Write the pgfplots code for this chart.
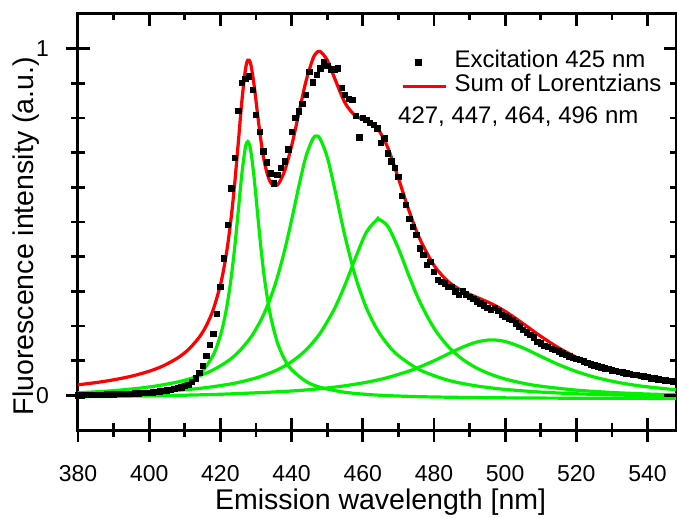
\documentclass[border=0pt]{standalone}
\usepackage{fontspec}
\setmainfont{Liberation Sans}
\usepackage{pgfplots}
\pgfplotsset{compat=1.18}
\definecolor{fitred}{RGB}{255,0,0}
\definecolor{lgreen}{RGB}{0,240,0}
\begin{document}
\begin{tikzpicture}
\useasboundingbox (-78pt,-87pt) rectangle (599pt,430pt);
\begin{axis}[
  at={(0pt,0pt)}, anchor=south west,
  scale only axis, width=598pt, height=416pt,
  xmin=380, xmax=548, ymin=-0.1, ymax=1.1,
  xtick={380,400,...,540}, minor xtick={390,410,...,530},
  ytick={0,1}, minor ytick={0.1,0.2,0.3,0.4,0.5,0.6,0.7,0.8,0.9},
  tick pos=left, tick align=center,
  major tick length=24pt, minor tick length=14pt,
  axis line style={line width=3pt},
  every tick/.style={black, line width=2.8pt},
  /pgf/number format/assume math mode=true,
  xticklabel style={font=\fontsize{23}{23}\selectfont, anchor=base, yshift=-39pt},
  yticklabel style={font=\fontsize{23}{23}\selectfont, anchor=east, inner sep=0pt, xshift=-17pt},
  xlabel={Emission wavelength [nm]},
  xlabel style={font=\fontsize{28.5}{28.5}\selectfont, at={(axis description cs:0.506,-0.19)}, anchor=base},
  ylabel={Fluorescence intensity (a.u.)},
  ylabel style={font=\fontsize{28.5}{28.5}\selectfont, at={(axis description cs:-0.0736,0.466)}, anchor=base},
  legend style={at={(axis cs:470.8,1.0029)}, anchor=north west, draw=none, fill=none,
    inner sep=0pt, row sep=-5pt, column sep=7pt, font=\fontsize{24}{24}\selectfont,
    nodes={inner sep=0pt, text height=20pt, text depth=9pt}},
  legend cell align=left,
  legend image code/.code={\draw[mark repeat=2,mark phase=2,#1] plot coordinates {(0pt,0pt) (15pt,0pt) (43pt,0pt)};},
]
% measured spectrum
\addplot[only marks, mark=square*, mark size=2.7pt, black] table {
x y
380 0.000
381 0.000
382 0.001
383 0.001
384 0.001
385 0.002
386 0.002
387 0.002
388 0.003
389 0.003
390 0.003
391 0.004
392 0.004
393 0.004
394 0.005
395 0.005
396 0.006
397 0.006
398 0.007
399 0.007
400 0.008
401 0.009
402 0.010
403 0.012
404 0.013
405 0.015
406 0.017
407 0.019
408 0.022
409 0.024
410 0.027
411 0.031
412 0.040
413 0.050
414 0.066
415 0.085
416 0.114
417 0.146
418 0.178
419 0.235
420 0.314
421 0.396
422 0.492
423 0.598
424 0.685
425 0.821
426 0.901
427 0.913
428 0.920
429 0.882
430 0.810
431 0.761
432 0.704
433 0.672
434 0.641
435 0.612
436 0.636
437 0.656
438 0.675
439 0.710
440 0.760
441 0.800
442 0.820
443 0.841
444 0.867
445 0.934
446 0.903
447 0.925
448 0.944
449 0.963
450 0.951
451 0.940
452 0.941
453 0.944
454 0.887
455 0.867
456 0.855
457 0.853
458 0.807
459 0.745
460 0.800
461 0.795
462 0.787
463 0.780
464 0.771
465 0.728
466 0.742
467 0.699
468 0.675
469 0.656
470 0.631
471 0.576
472 0.550
473 0.510
474 0.487
475 0.463
476 0.425
477 0.405
478 0.377
479 0.386
480 0.357
481 0.333
482 0.328
483 0.324
484 0.314
485 0.314
486 0.300
487 0.290
488 0.300
489 0.292
490 0.285
491 0.278
492 0.272
493 0.266
494 0.260
495 0.253
496 0.247
497 0.252
498 0.245
499 0.232
500 0.228
501 0.222
502 0.218
503 0.208
504 0.199
505 0.190
506 0.182
507 0.175
508 0.168
509 0.155
510 0.150
511 0.143
512 0.140
513 0.135
514 0.131
515 0.127
516 0.122
517 0.117
518 0.113
519 0.108
520 0.105
521 0.102
522 0.098
523 0.094
524 0.090
525 0.087
526 0.084
527 0.081
528 0.078
529 0.076
530 0.073
531 0.071
532 0.069
533 0.067
534 0.064
535 0.062
536 0.060
537 0.059
538 0.057
539 0.055
540 0.053
541 0.050
542 0.049
543 0.047
544 0.045
545 0.044
546 0.042
547 0.041
548 0.040
};
\addlegendentry{Excitation 425 nm}
% Lorentzian components
\addplot[lgreen, line width=3.2pt, smooth, forget plot] coordinates {
(380,-0.0037) (390,0.0000) (400,0.0083) (408,0.0253) (414,0.0594) (418,0.1166)
(420,0.1726) (421,0.2136) (422,0.2671) (423,0.3366) (424,0.4247) (425,0.5290)
(426,0.6356) (427,0.7137) (427.7,0.7320) (428.5,0.7082) (429.5,0.6256) (430.5,0.5181)
(431.5,0.4150) (432.5,0.3288) (434,0.2333) (436,0.1528) (438,0.1045) (440,0.0742)
(444,0.0404) (448,0.0233) (455,0.0088) (464,0.0007) (476,-0.0039) (492,-0.0065)
(510,-0.0079) (530,-0.0086) (548,-0.0090)};
\addplot[lgreen, line width=3.2pt, smooth, forget plot] coordinates {
(380,0.0072) (390,0.0135) (400,0.0241) (408,0.0385) (414,0.0561) (418,0.0735)
(422,0.0982) (425,0.1241) (428.5,0.1667) (431.5,0.2191) (434,0.2789) (436,0.3404)
(438,0.4162) (440,0.5053) (442,0.6011) (444,0.6877) (446,0.7408) (447,0.7480)
(448,0.7408) (450,0.6877) (452,0.6011) (455,0.4593) (458,0.3404) (461,0.2528)
(464,0.1906) (467,0.1465) (470,0.1146) (476,0.0735) (484,0.0435) (492,0.0271)
(500,0.0171) (510,0.0094) (520,0.0045) (530,0.0013) (548,-0.0024)};
\addplot[lgreen, line width=3.2pt, smooth, forget plot] coordinates {
(380,0.0011) (390,0.0042) (400,0.0088) (408,0.0142) (416,0.0223) (424,0.0350)
(430.5,0.0517) (436,0.0736) (440,0.0970) (444,0.1304) (448,0.1789) (452,0.2490)
(455,0.3183) (458,0.3978) (461,0.4703) (464,0.5072) (464.5,0.5080) (467,0.4881)
(470,0.4240) (473,0.3442) (476,0.2705) (480,0.1941) (484,0.1408) (488,0.1042)
(492,0.0787) (496,0.0605) (500,0.0471) (505,0.0350) (510,0.0264) (520,0.0150)
(530,0.0082) (540,0.0038) (548,0.0014)};
\addplot[lgreen, line width=3.2pt, smooth, forget plot] coordinates {
(380,-0.0041) (400,-0.0016) (420,0.0031) (440,0.0125) (452,0.0236) (461,0.0376)
(467,0.0513) (473,0.0701) (476,0.0818) (480,0.0997) (484,0.1195) (488,0.1388)
(492,0.1537) (496,0.1600) (500,0.1553) (505,0.1370) (510,0.1125) (515,0.0887)
(520,0.0687) (525,0.0529) (530,0.0408) (535,0.0315) (540,0.0244) (548,0.0161)};
% sum of Lorentzians
\addplot[fitred, line width=3.2pt, smooth] coordinates {
(380,0.0304) (385,0.0367) (390,0.0447) (395,0.0552) (400,0.0695) (404,0.0854)
(408,0.1079) (411,0.1319) (414,0.1667) (416,0.2001) (418,0.2474) (420,0.3182)
(421,0.3676) (422,0.4302) (423,0.5097) (424,0.6088) (425,0.7250) (426,0.8449)
(427,0.9376) (427.7,0.9669) (428.5,0.9568) (429.5,0.8930) (430.5,0.8065) (431.5,0.7267)
(432.5,0.6663) (434,0.6155) (436,0.6067) (438,0.6462) (440,0.7190) (442,0.8115)
(444,0.9041) (446,0.9710) (447,0.9879) (448,0.9922) (450,0.9676) (452,0.9173)
(455,0.8440) (458,0.8057) (461,0.7934) (464,0.7724) (467,0.7151) (470,0.6265)
(473,0.5324) (476,0.4519) (480,0.3751) (484,0.3283) (488,0.3011) (492,0.2829)
(496,0.2650) (500,0.2423) (505,0.2072) (510,0.1703) (515,0.1372) (520,0.1099)
(525,0.0884) (530,0.0717) (535,0.0586) (540,0.0483) (548,0.0361)};
\addlegendentry{Sum of Lorentzians}
\node[anchor=base west, inner sep=0pt, font=\fontsize{24}{24}\selectfont] at (axis cs:469.9,0.785) {427, 447, 464, 496 nm};
\end{axis}
\begin{axis}[
  at={(0pt,0pt)}, anchor=south west,
  scale only axis, width=598pt, height=416pt,
  xmin=380, xmax=548, ymin=-0.1, ymax=1.1,
  xtick={380,400,...,540}, minor xtick={390,410,...,530},
  ytick={0,1}, minor ytick={0.1,0.2,0.3,0.4,0.5,0.6,0.7,0.8,0.9},
  tick pos=right, tick align=inside,
  major tick length=12pt, minor tick length=6pt,
  axis line style={draw=none},
  every tick/.style={black, line width=2.8pt},
  xticklabels={}, yticklabels={},
]
\end{axis}
\end{tikzpicture}
\end{document}
